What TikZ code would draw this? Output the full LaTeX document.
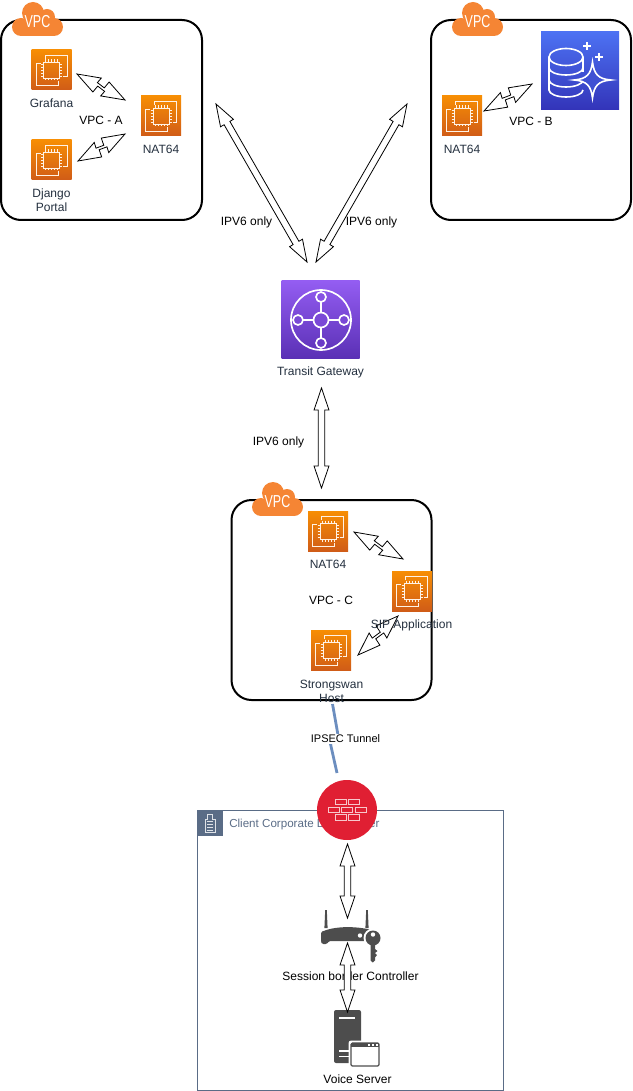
\documentclass[tikz,border=0pt]{standalone}
\usepackage{fontspec}
\setmainfont{Liberation Sans}
\usepackage{tikz}
\usetikzlibrary{calc}

\definecolor{awsink}{HTML}{232F3E}
\definecolor{cloudorange}{HTML}{F58534}
\definecolor{clientblue}{HTML}{5A6C86}
\definecolor{tunnelblue}{HTML}{6C8EBF}
\definecolor{iconhead}{HTML}{4D4D4D}
\definecolor{ectop}{HTML}{F78E04}
\definecolor{ecbottom}{HTML}{D05C17}
\definecolor{dbtop}{HTML}{4D72F3}
\definecolor{dbbottom}{HTML}{3334B9}
\definecolor{tgwtop}{HTML}{945DF2}
\definecolor{tgwbottom}{HTML}{5A30B5}
\definecolor{firewallred}{HTML}{E01F33}

\tikzset{
  txt/.style={font=\fontsize{9}{10.5}\selectfont, align=center, inner sep=0pt},
  awstxt/.style={txt, text=awsink},
  vpcbox/.style={draw=black, line width=1.5pt, rounded corners=15pt},
  ec2/.style={minimum size=30pt, inner sep=0pt, top color=ectop, bottom color=ecbottom},
  flexarrow/.style={draw=black, fill=white, line width=0.6pt, line join=miter, to path={
    let \p1=($(\tikztotarget)-(\tikztostart)$), \n1={atan2(\y1,\x1)}, \n2={veclen(\x1,\y1)} in
    [shift={(\tikztostart)}, rotate=\n1]
    (0pt,0pt) -- (16.5pt,5.6pt) -- (16.5pt,2.5pt) -- (\n2-16.5pt,2.5pt) -- (\n2-16.5pt,5.6pt)
    -- (\n2,0pt) -- (\n2-16.5pt,-5.6pt) -- (\n2-16.5pt,-2.5pt) -- (16.5pt,-2.5pt) -- (16.5pt,-5.6pt) -- cycle}},
  ziparrow/.style={draw=black, fill=white, line width=0.6pt, line join=miter, to path={
    let \p1=($(\tikztotarget)-(\tikztostart)$), \n1={atan2(\y1,\x1)}, \n2={veclen(\x1,\y1)} in
    [shift={(\tikztostart)}, rotate=\n1]
    (0pt,0pt) -- (17.5pt,6pt) -- (16.5pt,1.6pt) -- (\n2-18pt,0.6pt) -- (\n2-16.9pt,6.2pt)
    -- (\n2,0pt) -- (\n2-17.5pt,-6pt) -- (\n2-16.5pt,-1.6pt) -- (18pt,-0.6pt) -- (16.9pt,-6.2pt) -- cycle}},
  chip/.pic={
    \draw [white!90!orange, line width=0.6pt]
      (-6.5,-11) -- (-6.5,-15) -- (15.5,-15) -- (15.5,6) -- (11.5,6)
      (-11,-6.5) -- (-15.5,-6.5) -- (-15.5,15.5) -- (6.5,15.5) -- (6.5,11.5)
      (-8,-8) rectangle (8,8);
    \foreach \t in {-6,-3,0,3,6} {
      \draw [white!90!orange, line width=0.45pt]
        (\t,-10.5) -- (\t,-8) (\t,8) -- (\t,10.5)
        (-10.5,\t) -- (-8,\t) (8,\t) -- (10.5,\t);
    }
  },
  vpccloud/.pic={
    \fill [cloudorange] (9,25) circle [radius=9];
    \fill [cloudorange] (21,11) circle [radius=11];
    \fill [cloudorange] (35,15) circle [radius=8];
    \fill [cloudorange] (42,25) circle [radius=9];
    \fill [cloudorange] (9,18) rectangle (42,34);
    \node [white, inner sep=0pt, font=\fontsize{13}{13}\selectfont] (label) at (25.5,20)
      {\scalebox{0.72}[1]{VPC}};
  },
}

\begin{document}
\begin{tikzpicture}[x=0.75pt,y=-0.75pt]
  \useasboundingbox (0,0) rectangle (632,1091);

  \draw [clientblue, line width=0.75pt] (197.5,810.5) rectangle (503.5,1090);
  \node [fill=clientblue, minimum size=18.75pt, inner sep=0pt] (clientTag) at (210,823) {};
  \draw [white!80!clientblue, line width=0.5pt]
    (205,832) -- (205,819) -- (207.5,819) -- (207.5,814.5) -- (212.5,814.5) -- (212.5,819) -- (215,819) -- (215,832) -- cycle;
  \foreach \wy in {821,824,827,830} {
    \draw [white!80!clientblue, line width=0.5pt] (207,\wy) -- (213,\wy);
  }
  \node [txt, font=\fontsize{8.7}{10.5}\selectfont, text=clientblue, anchor=west] (clientText) at (229,824) {Client Corporate Data Center};

  \draw [vpcbox] (1,20) rectangle (202,220);
  \draw [vpcbox] (431,20) rectangle (631,220);
  \draw [vpcbox] (231.5,500) rectangle (431.5,700);
  \pic (cloudA) at (12,2) {vpccloud};
  \pic (cloudB) at (452,2) {vpccloud};
  \pic (cloudC) at (252,482) {vpccloud};

  \node [ec2] (grafana)    at (51.5,70)  {};
  \node [ec2] (django)     at (51.5,160) {};
  \node [ec2] (natA)       at (161,116)  {};
  \node [ec2] (natB)       at (462,116)  {};
  \node [ec2] (natC)       at (328,531)  {};
  \node [ec2] (sipApp)     at (412,591)  {};
  \node [ec2] (strongswan) at (331,650)  {};
  \foreach \n in {grafana,django,natA,natB,natC,sipApp,strongswan} {
    \pic at (\n) {chip};
  }

  \node [minimum size=58.5pt, inner sep=0pt, top color=dbtop, bottom color=dbbottom] (database) at (580,70.5) {};
  \begin{scope}[white, line width=1.2pt]
    \draw (566,57) ellipse [x radius=17, y radius=8.5];
    \draw (549,57) -- (549,90) arc [x radius=17, y radius=7, start angle=180, end angle=0];
    \draw (549,68) arc [x radius=17, y radius=7, start angle=180, end angle=0];
    \draw (549,80) arc [x radius=17, y radius=7, start angle=180, end angle=0];
    \draw (583,57) -- (583,72);
    \fill [dbtop!45!dbbottom, draw=white]
      (592.5,62) .. controls (594,74) and (598,79) .. (611,80)
      .. controls (598,81) and (594,86) .. (592.5,98)
      .. controls (591,86) and (587,81) .. (574,80)
      .. controls (587,79) and (591,74) .. (592.5,62) -- cycle;
    \draw (587,42) -- (587,50) (583,46) -- (591,46)
          (599,53) -- (599,61) (595,57) -- (603,57);
  \end{scope}

  \node [minimum size=58.5pt, inner sep=0pt, top color=tgwtop, bottom color=tgwbottom] (transit) at (320.5,319.5) {};
  \begin{scope}[white, line width=1.25pt]
    \draw (321,320) circle [radius=30];
    \draw (321,297) -- (321,343) (298,320) -- (344,320);
    \fill [tgwtop!55!tgwbottom, draw=white] (321,320) circle [radius=7.5];
    \fill [tgwtop!75!tgwbottom, draw=white] (321,297) circle [radius=5];
    \fill [tgwtop!55!tgwbottom, draw=white] (298,320) circle [radius=5];
    \fill [tgwtop!55!tgwbottom, draw=white] (344,320) circle [radius=5];
    \fill [tgwtop!30!tgwbottom, draw=white] (321,343) circle [radius=5];
  \end{scope}

  \fill [iconhead] (325.2,910) -- (326.8,910) -- (327.6,928) -- (324.4,928) -- cycle;
  \fill [iconhead] (366.2,910) -- (367.8,910) -- (368.6,928) -- (365.4,928) -- cycle;
  \fill [iconhead, rounded corners=1pt] (321,932) .. controls (335,926) and (355,926) .. (372,930)
        -- (372,941) -- (329,941) -- (327,944) -- (322,944) -- (321,942) -- cycle;
  \fill [white] (373,938) circle [radius=9.5];
  \fill [white] (360,935.5) circle [radius=2.2];
  \fill [iconhead] (373,938) circle [radius=7.5];
  \fill [iconhead] (370.5,944) -- (375,944) -- (375,949) -- (377.5,951) -- (375,953) -- (377,955) -- (375,957.5) -- (375,960.5) -- (372.8,962.5) -- (370.5,960.5) -- cycle;
  \fill [white] (373,934.5) circle [radius=2.2];

  \fill [iconhead, rounded corners=1.5pt] (334,1063) rectangle (361,1010);
  \draw [white, line width=1pt] (339,1018) -- (355,1018) (339,1051) -- (349,1051) (339,1056.5) -- (349,1056.5);
  \fill [white, rounded corners=2pt] (348.5,1040.5) rectangle (381,1068);
  \draw [iconhead, fill=white, line width=0.9pt, rounded corners=1pt] (351,1043) rectangle (379,1066);
  \fill [iconhead] (351,1043) rectangle (379,1046.5);
  \fill [white] (368,1044) rectangle (370,1045.5);
  \fill [white] (372,1044) rectangle (374,1045.5);
  \fill [white] (376,1044) rectangle (378,1045.5);

  \node [awstxt] (grafanaText) at (51.5,103) {Grafana};
  \node [awstxt] (djangoText)  at (51.5,200) {Django\\Portal};
  \node [awstxt] (natAText)    at (161,149)  {NAT64};
  \node [awstxt] (natBText)    at (462,149)  {NAT64};
  \node [awstxt] (natCText)    at (328,564)  {NAT64};
  \node [awstxt] (swanText)    at (331.5,691) {Strongswan\\Host};
  \node [awstxt] (transitText) at (320.5,372) {Transit Gateway};
  \node [txt] (vpcA) at (101,120.5) {VPC - A};
  \node [txt] (vpcB) at (531,121)   {VPC - B};
  \node [txt] (vpcC) at (331,600.5) {VPC - C};
  \node [txt] (ipvLeft)  at (246.5,222) {IPV6 only};
  \node [txt] (ipvRight) at (371.5,222) {IPV6 only};
  \node [txt] (ipvDown)  at (278.5,442) {IPV6 only};
  \node [txt] (sbcText)   at (350.5,976)  {Session border Controller};
  \node [txt] (voiceText) at (357.5,1079) {Voice Server};

  \coordinate (tunnelTop) at (332.5,704);
  \coordinate (tunnelBendA) at (338,735);
  \coordinate (tunnelBendB) at (330.5,744);
  \coordinate (tunnelEnd) at (337,773);
  \draw [tunnelblue, line width=2.1pt] (tunnelTop) -- (tunnelBendA) -- (tunnelBendB) -- (tunnelEnd);
  \node [txt, font=\fontsize{8.25}{10}\selectfont, fill=white, inner xsep=0.5pt, inner ysep=1pt] (ipsecText) at (345.5,739) {IPSEC Tunnel};

  \node [circle, fill=firewallred, minimum size=45pt, inner sep=0pt] (firewall) at (347,810) {};
  \begin{scope}[white!75!firewallred, line width=0.7pt]
    \foreach \bx/\by in {341/802,354/802,333.5/810,347/810,360.5/810,341/817.5,354/817.5} {
      \draw (\bx-5.5,\by-2.7) rectangle (\bx+5.5,\by+2.7);
    }
  \end{scope}

  \coordinate (grafanaEnd) at (77,74);
  \coordinate (natAUp) at (125,100);
  \coordinate (djangoEnd) at (78,161);
  \coordinate (natADown) at (125,134);
  \coordinate (natBEnd) at (484,111);
  \coordinate (databaseEnd) at (532,84);
  \coordinate (natCEnd) at (354,532);
  \coordinate (sipUp) at (403,559);
  \coordinate (sipDown) at (398,616);
  \coordinate (swanEnd) at (358,655);
  \coordinate (vpcAEnd) at (216,104);
  \coordinate (vpcBEnd) at (407,104);
  \coordinate (transitLeft) at (307,262);
  \coordinate (transitRight) at (316,262);
  \coordinate (transitDown) at (321.5,388);
  \coordinate (vpcCEnd) at (321.5,488);
  \coordinate (firewallDown) at (347.5,844);
  \coordinate (sbcUp) at (347.5,918);
  \coordinate (sbcDown) at (347.5,943);
  \coordinate (voiceUp) at (347.5,1012);

  \draw [ziparrow] (grafanaEnd) to (natAUp);
  \draw [ziparrow] (djangoEnd) to (natADown);
  \draw [ziparrow] (natBEnd) to (databaseEnd);
  \draw [ziparrow] (natCEnd) to (sipUp);
  \draw [ziparrow] (sipDown) to (swanEnd);
  \draw [flexarrow] (vpcAEnd) to (transitLeft);
  \draw [flexarrow] (vpcBEnd) to (transitRight);
  \draw [flexarrow] (transitDown) to (vpcCEnd);
  \draw [flexarrow] (firewallDown) to (sbcUp);
  \draw [flexarrow] (sbcDown) to (voiceUp);

  \node [awstxt] (sipText) at (411.5,625) {SIP Application};
\end{tikzpicture}
\end{document}
